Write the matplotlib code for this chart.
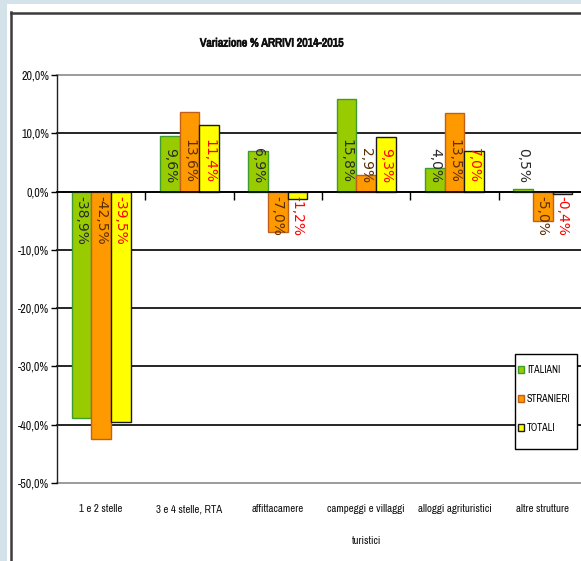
import matplotlib
matplotlib.use('Agg')
import matplotlib.pyplot as plt
import matplotlib.transforms as mtransforms
import matplotlib.patheffects as pe
from matplotlib.patches import Patch, Rectangle
from matplotlib.lines import Line2D

# Variazione % arrivi 2014-2015 per tipologia di struttura
categories = ['1 e 2 stelle', '3 e 4 stelle, RTA', 'affittacamere',
              'campeggi e villaggi\nturistici', 'alloggi agrituristici',
              'altre strutture']
italiani = [-38.9, 9.6, 6.9, 15.8, 4.0, 0.5]
stranieri = [-42.5, 13.6, -7.0, 2.9, 13.5, -5.0]
totali = [-39.5, 11.4, -1.2, 9.3, 7.0, -0.4]
series_names = ['ITALIANI', 'STRANIERI', 'TOTALI']
yticks = [20, 10, 0, -10, -20, -30, -40, -50]

fills = ['#99cc00', '#ff9900', '#ffff00']
edges = ['#3f9a2f', '#c0601a', '#1a1a1a']
label_colors = ['#2a2a2a', '#5c2e00', '#ff0000']

narrow = ['Archivo Narrow', 'Liberation Sans']
txt_color = '#111111'


def pct(v):
    return f'{v:.1f}%'.replace('.', ',')


W, H = 581, 561
fig = plt.figure(figsize=(W / 100, H / 100), dpi=100)
fig.patch.set_facecolor('white')

# window frame around the chart
frame_bg = '#d4e2ea'
fig.add_artist(Rectangle((0, 1 - 4 / H), 1, 4 / H, transform=fig.transFigure,
                         facecolor=frame_bg, edgecolor='none'))
fig.add_artist(Rectangle((0, 0), 7 / W, 1, transform=fig.transFigure,
                         facecolor=frame_bg, edgecolor='none'))
fig.add_artist(Line2D([11 / W, 11 / W], [0, 1 - 12 / H], transform=fig.transFigure,
                      color='#3c3c3c', lw=1.8))
fig.add_artist(Line2D([11 / W, 1], [1 - 13 / H, 1 - 13 / H], transform=fig.transFigure,
                      color='#3c3c3c', lw=1.8))

ax = fig.add_axes([57 / W, 1 - 483 / H, 530 / W, 408 / H])
ax.set_xlim(-0.5, len(categories) - 0.5)
ax.set_ylim(-50, 20)

# horizontal gridlines
for t in yticks:
    c = '#8a8a8a' if t in (yticks[0], yticks[-1]) else 'black'
    ax.axhline(t, color=c, lw=1.2, zorder=1, clip_on=False)

width = 0.222
series = [italiani, stranieri, totali]
for k, vals in enumerate(series):
    xs = [i + (k - 1) * width for i in range(len(categories))]
    ax.bar(xs, vals, width=width, color=fills[k], edgecolor=edges[k],
           linewidth=1.0, zorder=3)
    for x, v in zip(xs, vals):
        if v >= 0:
            ax.text(x, 1.5, pct(v), rotation=270, ha='center', va='bottom',
                    fontsize=10, color=label_colors[k], zorder=5,
                    family='DejaVu Sans')
        else:
            ax.text(x, -0.7, pct(v), rotation=270, ha='center', va='top',
                    fontsize=10, color=label_colors[k], zorder=5,
                    family='DejaVu Sans')

# axes styling
for s in ['top', 'right']:
    ax.spines[s].set_visible(False)
ax.spines['bottom'].set_position(('data', 0))
ax.spines['bottom'].set_color('black')
ax.spines['bottom'].set_linewidth(1.2)
ax.spines['left'].set_color('#202020')
ax.spines['left'].set_linewidth(1.0)
ax.spines['bottom'].set_zorder(4)

ax.set_yticks(yticks)
ax.set_yticklabels([pct(t) for t in yticks], fontsize=8.6, family=narrow,
                   color=txt_color)
ax.tick_params(axis='y', direction='out', length=4, width=1, pad=1.5)

ax.set_xticks([i + 0.5 for i in range(len(categories))])
ax.set_xticklabels([])
ax.tick_params(axis='x', direction='out', length=6, width=1)

trans = mtransforms.blended_transform_factory(ax.transData, ax.transAxes)
for i, name in enumerate(categories):
    ax.text(i, -21 / 408, name, transform=trans, ha='center', va='top',
            fontsize=7.8, family=narrow, color=txt_color, linespacing=3.7,
            clip_on=False)

fig.text(272 / W, 1 - 43 / H, 'Variazione % ARRIVI 2014-2015', ha='center',
         va='center', fontsize=8.6, family=narrow, color=txt_color,
         path_effects=[pe.withStroke(linewidth=0.6, foreground=txt_color)])

# legend box
fig.add_artist(Rectangle((515 / W, 1 - 449 / H), 62 / W, 95 / H,
                         transform=fig.transFigure, facecolor='white',
                         edgecolor='black', lw=1.0, zorder=4.5))
handles = [Patch(facecolor=fills[k], edgecolor=edges[k], lw=1.0)
           for k in range(3)]
leg = fig.legend(handles, series_names, loc='upper left',
                 bbox_to_anchor=(518 / W, 1 - 365 / H), borderaxespad=0,
                 prop={'family': narrow, 'size': 7.2},
                 handlelength=0.6, handleheight=0.6, handletextpad=0.3,
                 labelspacing=1.9, borderpad=0, frameon=False)
leg.set_zorder(5)

fig.savefig('out.png', dpi=100)
